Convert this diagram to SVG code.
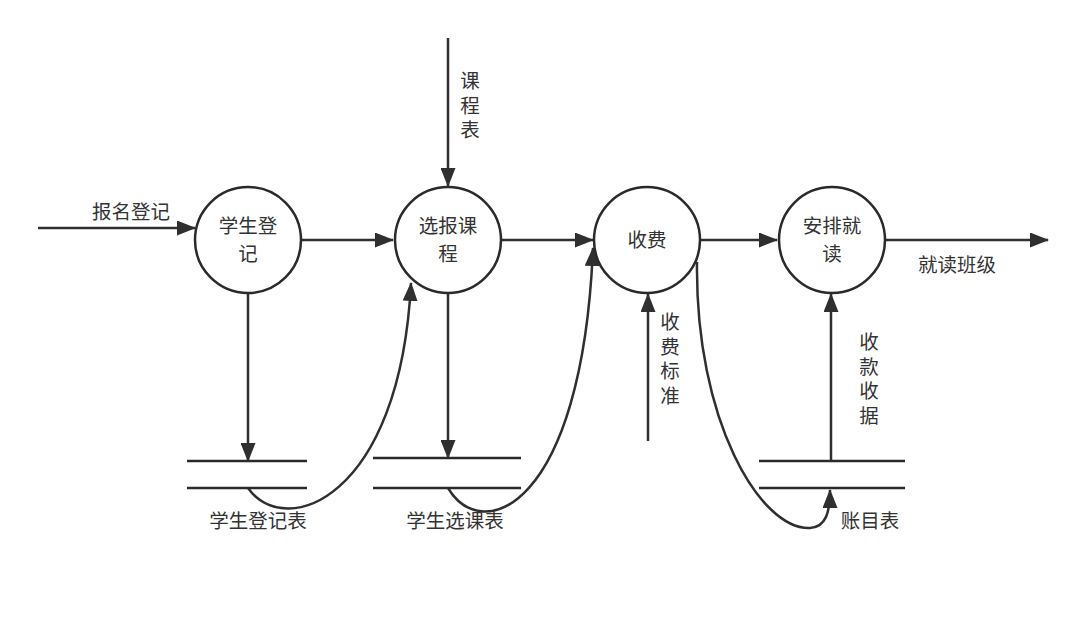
<svg xmlns="http://www.w3.org/2000/svg" width="1077" height="639" viewBox="0 0 1077 639">
<style>
.proc{fill:#fff;stroke:#2a2a2a;stroke-width:2.5}
.ln{fill:none;stroke:#2f2f2f;stroke-width:2.5}
.st{stroke:#2a2a2a;stroke-width:2.5}
text{font-family:"Noto Sans CJK SC","Liberation Sans",sans-serif;font-size:19.5px;fill:#333}
.c{text-anchor:middle}
.v{writing-mode:vertical-rl;letter-spacing:5px}
</style>
<defs>
<marker id="ah" markerUnits="userSpaceOnUse" markerWidth="19" markerHeight="15" refX="18" refY="7.5" orient="auto">
<path d="M0,0 L19,7.5 L0,15 Z" fill="#2f2f2f"/>
</marker>
</defs>
<rect width="1077" height="639" fill="#fff"/>
<g id="connectors">
<line class="ln" x1="38" y1="228" x2="195" y2="228" marker-end="url(#ah)"/>
<line class="ln" x1="302" y1="240" x2="393" y2="240" marker-end="url(#ah)"/>
<line class="ln" x1="502" y1="240" x2="593" y2="240" marker-end="url(#ah)"/>
<line class="ln" x1="701" y1="240" x2="777" y2="240" marker-end="url(#ah)"/>
<line class="ln" x1="886" y1="240" x2="1048" y2="240" marker-end="url(#ah)"/>
<line class="ln" x1="448" y1="38" x2="448" y2="186" marker-end="url(#ah)"/>
<line class="ln" x1="248" y1="294" x2="248" y2="461" marker-end="url(#ah)"/>
<line class="ln" x1="448" y1="294" x2="448" y2="458" marker-end="url(#ah)"/>
<line class="ln" x1="648" y1="441" x2="648" y2="294" marker-end="url(#ah)"/>
<line class="ln" x1="831" y1="461" x2="831" y2="294" marker-end="url(#ah)"/>
<path class="ln" d="M248,488 C285,540 400,500 411,283" marker-end="url(#ah)"/>
<path class="ln" d="M448,488 C482,545 582,510 593,248" marker-end="url(#ah)"/>
<path class="ln" d="M697,262 C695,420 760,530 810,528 C826,527 830,512 830,490" marker-end="url(#ah)"/>
</g>
<g id="p1"><circle class="proc" cx="248" cy="240" r="53"/><text class="c" x="248" y="233">学生登<tspan x="248" dy="28">记</tspan></text></g>
<g id="p2"><circle class="proc" cx="448" cy="240" r="53"/><text class="c" x="448" y="233">选报课<tspan x="448" dy="28">程</tspan></text></g>
<g id="p3"><circle class="proc" cx="647" cy="240" r="53"/><text class="c" x="647" y="247">收费</text></g>
<g id="p4"><circle class="proc" cx="832" cy="240" r="53"/><text class="c" x="832" y="233">安排就<tspan x="832" dy="28">读</tspan></text></g>
<g id="s1"><line class="st" x1="187" y1="461" x2="307" y2="461"/><line class="st" x1="187" y1="488" x2="307" y2="488"/><text class="c" x="258" y="528">学生登记表</text></g>
<g id="s2"><line class="st" x1="373" y1="458" x2="521" y2="458"/><line class="st" x1="373" y1="488" x2="521" y2="488"/><text class="c" x="455" y="528">学生选课表</text></g>
<g id="s3"><line class="st" x1="759" y1="461" x2="905" y2="461"/><line class="st" x1="759" y1="488" x2="905" y2="488"/><text class="c" x="870" y="528">账目表</text></g>
<g id="labels">
<text class="c" x="131" y="219">报名登记</text>
<text class="v" x="470" y="71">课程表</text>
<text class="v" x="670" y="312">收费标准</text>
<text class="v" x="869" y="332">收款收据</text>
<text class="c" x="957" y="272">就读班级</text>
</g>
</svg>
